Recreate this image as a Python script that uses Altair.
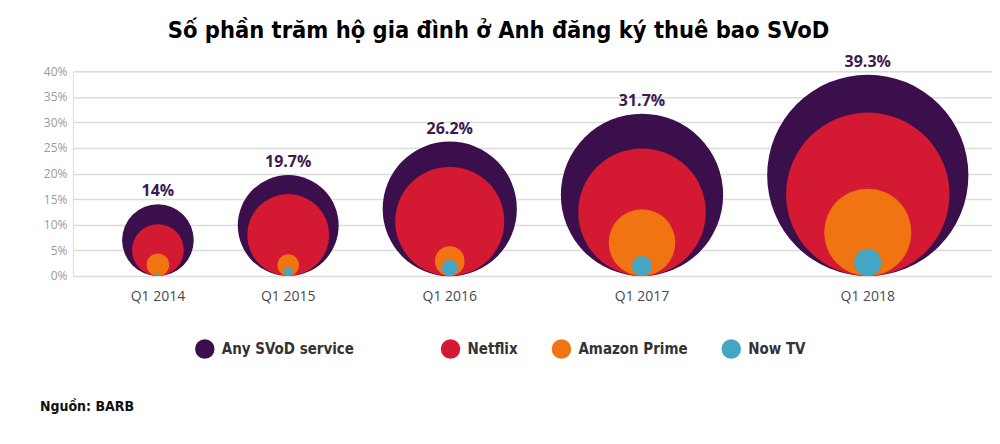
import altair as alt
import pandas as pd

quarters = ["Q1 2014", "Q1 2015", "Q1 2016", "Q1 2017", "Q1 2018"]
any_svod = [14.0, 19.7, 26.2, 31.7, 39.3]
netflix = [10.1, 16.0, 21.3, 24.9, 31.9]
amazon = [4.4, 4.2, 5.8, 13.0, 17.0]
now_tv = [0.6, 1.7, 3.1, 3.9, 5.3]
services = ["Any SVoD service", "Netflix", "Amazon Prime", "Now TV"]
colors = ["#3b0f4b", "#d41a32", "#f07412", "#45a5c4"]
value_labels = ["14%", "19.7%", "26.2%", "31.7%", "39.3%"]

# layout constants (in percentage units so circles share the y scale)
W, H = 920, 205
YMAX = 40
PX = H / YMAX
XMAX = W / PX
LEFT = 9.6
GAP = 8.6
COND = "DejaVu Sans Condensed"
PAD = "\u2800" * 5

centers = []
pos = LEFT
for d in any_svod:
    centers.append(pos + d / 2)
    pos += d + GAP

rows = []
series = [any_svod, netflix, amazon, now_tv]
for qi, q in enumerate(quarters):
    for si, s in enumerate(services):
        v = series[si][qi]
        rows.append({"quarter": q, "service": s, "order": si, "value": v,
                     "cy": v / 2, "sq": v * v, "cx": centers[qi]})
df = pd.DataFrame(rows)

top = pd.DataFrame({"quarter": quarters, "value": any_svod, "label": value_labels, "cx": centers})

xs = alt.X("cx:Q", scale=alt.Scale(domain=[0, XMAX], nice=False, zero=False), axis=None)
yaxis = alt.Axis(values=list(range(0, 45, 5)), labelExpr="datum.value + '%'",
                 title=None, domain=False, ticks=False, labelPadding=6, labelOverlap=False,
                 labelFont="Open Sans", labelFontSize=12, labelColor="#9a9a9a",
                 gridColor="#dcdcdc", gridWidth=1.5)
yscale = alt.Scale(domain=[0, YMAX], nice=False)

circles = alt.Chart(df).mark_circle(opacity=1, strokeWidth=0).encode(
    x=xs,
    y=alt.Y("cy:Q", scale=yscale, axis=yaxis),
    size=alt.Size("sq:Q", scale=alt.Scale(type="linear", domain=[0, YMAX * YMAX], range=[0, H * H], zero=True), legend=None),
    color=alt.Color("service:N", scale=alt.Scale(domain=services, range=colors),
                    legend=alt.Legend(title=None, orient="none", direction="horizontal",
                                      legendX=122, legendY=268, symbolType="circle",
                                      symbolSize=380, symbolStrokeWidth=0,
                                      labelFont=COND, labelFontWeight="bold",
                                      labelFontSize=15, labelColor="#333333", labelOffset=7,
                                      columnPadding=33, labelLimit=400,
                                      labelExpr="datum.label == 'Any SVoD service' ? datum.label + '" + PAD + "' : datum.label")),
    order=alt.Order("order:Q"),
)

tops = alt.Chart(top).mark_text(font="Open Sans", fontWeight="bold", fontSize=16,
                                  color="#3d1a50", baseline="bottom", dy=-5).encode(
    x=xs, y=alt.Y("value:Q", scale=yscale, axis=yaxis), text="label:N")

xlabels = alt.Chart(top).mark_text(font="Open Sans", fontSize=14, color="#4a4a4a",
                                     baseline="middle", dy=21).encode(
    x=xs, y=alt.datum(0, scale=yscale, axis=yaxis), text="quarter:N")

source = alt.Chart(pd.DataFrame({"t": ["Nguồn: BARB"]})).mark_text(
    font=COND, fontWeight="bold", fontSize=14, color="#111111",
    align="left", baseline="middle").encode(
    x=alt.value(-33), y=alt.value(336), text="t:N")

chart = alt.layer(circles, tops, xlabels, source).properties(
    width=W, height=H,
    title=alt.TitleParams("Số phần trăm hộ gia đình ở Anh đăng ký thuê bao SVoD",
                          font=COND, fontWeight="bold", fontSize=23.5,
                          color="#000000", anchor="middle", frame="group", dx=-34, offset=11),
    autosize=alt.AutoSizeParams(type="none"),
    padding={"left": 65, "top": 63, "right": 0, "bottom": 160},
).configure_view(stroke=None).configure(background="white")

chart.save("out.html", embed_options={"renderer": "svg", "actions": False})
